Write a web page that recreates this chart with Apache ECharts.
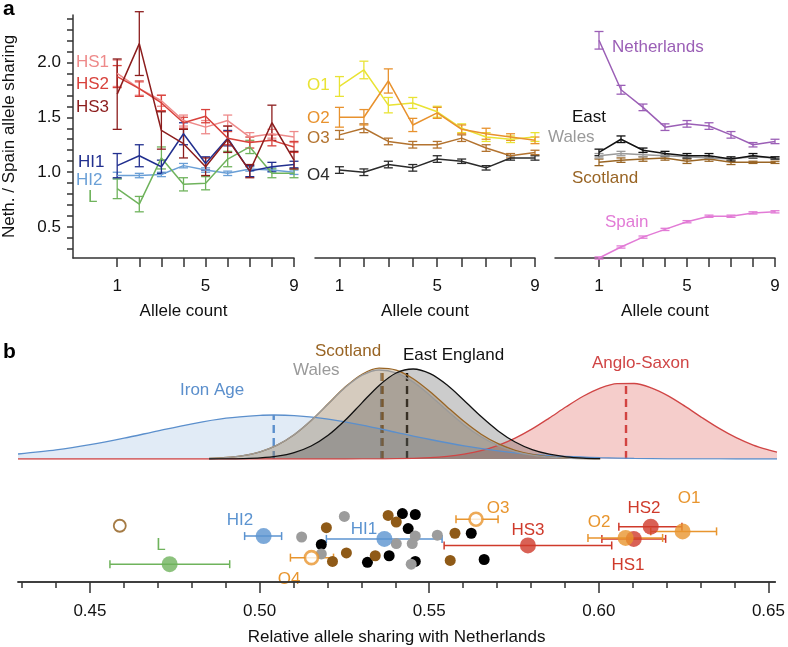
<!DOCTYPE html>
<html>
<head>
<meta charset="utf-8">
<title>Allele sharing</title>
<script src="https://cdn.jsdelivr.net/npm/echarts@6/dist/echarts.min.js"></script>
<style>
  html, body { margin: 0; padding: 0; background: #fff; }
  #main { width: 788px; height: 647px; }
</style>
</head>
<body>
<div id="main"></div>
<script>
// ---- panel a: ratio by allele count ----
var alleleCount = [1, 2, 3, 4, 5, 6, 7, 8, 9];
var ratioTicks = [0.3, 0.4, 0.5, 0.6, 0.7, 0.8, 0.9, 1.0, 1.1, 1.2, 1.3, 1.4, 1.5, 1.6, 1.7, 1.8, 1.9, 2.0, 2.1, 2.2, 2.3, 2.4];
var ratioLabels = [0.5, 1.0, 1.5, 2.0];
var countTicks = [1, 2, 3, 4, 5, 6, 7, 8, 9];
var countLabels = [1, 5, 9];

var hs1 = [1.90, 1.76, 1.65, 1.47, 1.41, 1.47, 1.32, 1.35, 1.32];
var hs1Err = [0.12, 0.06, 0.05, 0.05, 0.06, 0.05, 0.04, 0.04, 0.05];
var hs2 = [1.87, 1.76, 1.63, 1.45, 1.51, 1.31, 1.27, 1.29, 1.23];
var hs2Err = [0.10, 0.07, 0.07, 0.05, 0.06, 0.06, 0.05, 0.05, 0.05];
var hs3 = [1.71, 2.17, 1.38, 1.26, 1.05, 1.30, 1.01, 1.45, 1.11];
var hs3Err = [0.32, 0.29, 0.17, 0.13, 0.08, 0.12, 0.06, 0.16, 0.08];
var hi1 = [1.06, 1.15, 1.05, 1.35, 1.08, 1.31, 1.01, 1.05, 1.07];
var hi1Err = [0.11, 0.10, 0.06, 0.10, 0.06, 0.07, 0.05, 0.04, 0.03];
var hi2 = [0.97, 0.97, 0.98, 1.06, 1.02, 0.99, 1.03, 1.02, 1.00];
var hi2Err = [0.03, 0.02, 0.02, 0.02, 0.02, 0.02, 0.02, 0.02, 0.02];
var lSet = [0.85, 0.71, 1.13, 0.89, 0.90, 1.12, 1.23, 0.99, 0.99];
var lErr = [0.09, 0.07, 0.10, 0.06, 0.06, 0.07, 0.06, 0.04, 0.04];

var o1 = [1.78, 1.93, 1.61, 1.63, 1.55, 1.40, 1.32, 1.30, 1.32];
var o1Err = [0.09, 0.08, 0.07, 0.05, 0.05, 0.04, 0.04, 0.03, 0.04];
var o2 = [1.50, 1.50, 1.83, 1.43, 1.54, 1.39, 1.35, 1.32, 1.29];
var o2Err = [0.09, 0.07, 0.11, 0.06, 0.05, 0.04, 0.05, 0.03, 0.03];
var o3 = [1.34, 1.40, 1.28, 1.25, 1.25, 1.31, 1.22, 1.15, 1.18];
var o3Err = [0.04, 0.04, 0.03, 0.03, 0.03, 0.03, 0.03, 0.02, 0.02];
var o4 = [1.02, 1.00, 1.07, 1.04, 1.12, 1.10, 1.04, 1.13, 1.13];
var o4Err = [0.03, 0.03, 0.03, 0.03, 0.03, 0.02, 0.02, 0.02, 0.02];

var neth = [2.20, 1.75, 1.59, 1.41, 1.44, 1.42, 1.34, 1.25, 1.28];
var nethErr = [0.08, 0.04, 0.03, 0.03, 0.03, 0.03, 0.03, 0.02, 0.02];
var east = [1.18, 1.30, 1.20, 1.17, 1.15, 1.15, 1.12, 1.15, 1.13];
var eastErr = [0.03, 0.03, 0.02, 0.02, 0.02, 0.02, 0.02, 0.02, 0.01];
var wales = [1.15, 1.17, 1.16, 1.15, 1.14, 1.13, 1.12, 1.14, 1.13];
var walesErr = [0.02, 0.02, 0.02, 0.01, 0.01, 0.01, 0.01, 0.01, 0.01];
var scotland = [1.09, 1.11, 1.12, 1.13, 1.10, 1.12, 1.09, 1.09, 1.09];
var scotlandErr = [0.03, 0.02, 0.02, 0.02, 0.02, 0.02, 0.02, 0.01, 0.01];
var spain = [0.22, 0.32, 0.41, 0.48, 0.55, 0.60, 0.60, 0.63, 0.64];
var spainErr = [0.01, 0.01, 0.01, 0.01, 0.01, 0.01, 0.01, 0.01, 0.01];

// ---- panel b top: density curves ----
var ironX = [0.4288, 0.44, 0.45, 0.46, 0.47, 0.48, 0.49, 0.50, 0.504, 0.51, 0.52, 0.53, 0.54, 0.55, 0.56, 0.57, 0.58, 0.59, 0.60, 0.61, 0.62, 0.63, 0.64, 0.652];
var ironY = [5.0, 9.1, 14.3, 20.8, 28.2, 35.2, 40.8, 43.7, 44.0, 43.4, 39.9, 33.9, 26.7, 19.5, 13.1, 8.2, 4.7, 2.5, 1.3, 0.6, 0.2, 0.1, 0, 0];
var modernX = [0.485, 0.490, 0.495, 0.500, 0.505, 0.510, 0.515, 0.520, 0.525, 0.530, 0.535, 0.540, 0.545, 0.550, 0.555, 0.560, 0.565, 0.570, 0.575, 0.580, 0.585, 0.590, 0.595, 0.600];
var scotlandY = [0.6, 1.5, 3.4, 7.2, 13.9, 24.3, 38.5, 55.2, 71.9, 84.8, 90.8, 88.8, 80.3, 67.3, 52.1, 37.4, 24.8, 15.3, 8.7, 4.6, 2.2, 1.0, 0.4, 0.2];
var walesY = [0.6, 1.4, 3.3, 7.1, 13.8, 24.2, 38.4, 55.0, 71.4, 83.8, 89.0, 86.2, 77.1, 63.6, 48.5, 34.1, 22.2, 13.3, 7.4, 3.8, 1.8, 0.8, 0.3, 0.1];
var eastY = [0, 0.1, 0.4, 1.1, 2.8, 6.4, 13.0, 23.7, 38.7, 56.4, 73.6, 86.0, 90.0, 85.3, 73.9, 58.5, 42.4, 28.1, 17.0, 9.4, 4.8, 2.2, 0.9, 0.4];
var angloX = [0.4288, 0.50, 0.52, 0.53, 0.54, 0.55, 0.555, 0.56, 0.565, 0.57, 0.575, 0.58, 0.585, 0.59, 0.595, 0.60, 0.605, 0.61, 0.615, 0.62, 0.625, 0.63, 0.635, 0.64, 0.645, 0.65, 0.652];
var angloY = [0, 0, 0, 0.05, 0.3, 1.4, 2.6, 4.9, 8.4, 13.7, 20.9, 30.1, 40.9, 52.2, 62.7, 70.9, 75.4, 75.5, 71.1, 63.1, 52.6, 41.3, 30.6, 21.3, 13.9, 8.6, 6.9];
// mean markers (x, height of curve there)
var meanNames = ['Iron Age', 'Wales', 'Scotland', 'East England', 'Anglo-Saxon'];
var meanX = [0.504, 0.5356, 0.536, 0.5432, 0.6076];
var meanTop = [44, 89, 91, 90, 76];

// ---- panel b bottom: relative sharing ----
var sharingTicks = [0.43, 0.44, 0.45, 0.46, 0.47, 0.48, 0.49, 0.50, 0.51, 0.52, 0.53, 0.54, 0.55, 0.56, 0.57, 0.58, 0.59, 0.60, 0.61, 0.62, 0.63, 0.64, 0.65];
var sharingLabels = [0.45, 0.50, 0.55, 0.60, 0.65];

var grayPts = [[0.5250, 70], [0.5124, 48], [0.5182, 30], [0.5459, 49], [0.5403, 41], [0.5450, 41], [0.5524, 50], [0.5447, 19]];
var blackPts = [[0.5182, 40], [0.5318, 21], [0.5382, 28], [0.5421, 73], [0.5459, 72], [0.5438, 57], [0.5459, 22], [0.5624, 52], [0.5662, 24]];
var brownPts = [[0.5197, 58], [0.5215, 22], [0.5256, 31], [0.5341, 28], [0.5379, 71], [0.5403, 64], [0.5576, 52], [0.5562, 23]];
var oddPts = [[0.4588, 60]];

var groupNames = ['L', 'HI2', 'HI1', 'O4', 'O3', 'HS3', 'HS1', 'O2', 'HS2', 'O1'];
var groupX = [0.4735, 0.5012, 0.5368, 0.5153, 0.5638, 0.5791, 0.6103, 0.6079, 0.6153, 0.6247];
var groupLo = [0.4559, 0.4956, 0.5197, 0.5091, 0.5579, 0.5544, 0.6009, 0.5968, 0.6059, 0.6153];
var groupHi = [0.4912, 0.5065, 0.5538, 0.5218, 0.5703, 0.6038, 0.6197, 0.6188, 0.6245, 0.6347];
var groupRow = [19, 49, 46, 26, 67, 39, 46, 47, 59, 54];

// ---- styles ----
var FONT = '"Liberation Sans", Arial, Helvetica, sans-serif';
var C = {
  HS1: '#ee8a8a', HS2: '#d8423c', HS3: '#8c1d1d', HI1: '#22308f', HI2: '#6a9fd6', L: '#6fb35c',
  O1: '#e9e334', O2: '#e8922e', O3: '#b3732f', O4: '#2b2b2b',
  Neth: '#9b5fb6', East: '#111111', Wales: '#9a9a9a', Scot: '#996525', Spain: '#e27bd6',
  Iron: '#5b8fcc', Anglo: '#d04545', Orange: '#e8952e', Red: '#cf3a2b', Blue: '#5b93d0'
};
var groupColor = { L: C.L, HI2: C.Blue, HI1: C.Blue, O4: C.Orange, O3: C.Orange, HS3: C.Red, HS1: C.Red, O2: C.Orange, HS2: C.Red, O1: C.Orange };
var groupOpen = { O4: true, O3: true };

var myChart = echarts.init(document.getElementById('main'), null, { renderer: 'canvas' });

var series = [];

function addCurve(grid, vals, errs, color) {
  var pts = alleleCount.map(function (x, i) { return [x, vals[i]]; });
  series.push({
    type: 'line', xAxisIndex: grid, yAxisIndex: grid, data: pts,
    showSymbol: false, symbol: 'none', silent: true,
    lineStyle: { color: color, width: 1.5 }
  });
  series.push({
    type: 'custom', xAxisIndex: grid, yAxisIndex: grid, clip: false, silent: true,
    data: alleleCount.map(function (x, i) { return [x, vals[i], errs[i]]; }),
    encode: { x: 0, y: 1 },
    renderItem: function (params, api) {
      var x = api.value(0), y = api.value(1), e = api.value(2);
      var top = api.coord([x, y + e]), bot = api.coord([x, y - e]);
      var w = 4.5, st = { stroke: color, lineWidth: 1.3 };
      return {
        type: 'group', children: [
          { type: 'line', shape: { x1: top[0], y1: top[1], x2: bot[0], y2: bot[1] }, style: st },
          { type: 'line', shape: { x1: top[0] - w, y1: top[1], x2: top[0] + w, y2: top[1] }, style: st },
          { type: 'line', shape: { x1: bot[0] - w, y1: bot[1], x2: bot[0] + w, y2: bot[1] }, style: st }
        ]
      };
    }
  });
}

addCurve(0, hi2, hi2Err, C.HI2);
addCurve(0, lSet, lErr, C.L);
addCurve(0, hi1, hi1Err, C.HI1);
addCurve(0, hs1, hs1Err, C.HS1);
addCurve(0, hs2, hs2Err, C.HS2);
addCurve(0, hs3, hs3Err, C.HS3);

addCurve(1, o4, o4Err, C.O4);
addCurve(1, o3, o3Err, C.O3);
addCurve(1, o1, o1Err, C.O1);
addCurve(1, o2, o2Err, C.O2);

addCurve(2, spain, spainErr, C.Spain);
addCurve(2, scotland, scotlandErr, C.Scot);
addCurve(2, wales, walesErr, C.Wales);
addCurve(2, east, eastErr, C.East);
addCurve(2, neth, nethErr, C.Neth);

// density curves
function addDensity(xs, ys, color, fill) {
  series.push({
    type: 'line', xAxisIndex: 3, yAxisIndex: 3, silent: true,
    data: xs.map(function (x, i) { return [x, ys[i]]; }),
    smooth: 0.3, showSymbol: false, symbol: 'none',
    lineStyle: { color: color, width: 1.3 },
    areaStyle: { color: fill, opacity: 1 }
  });
}
addDensity(angloX, angloY, C.Anglo, 'rgba(215,60,55,0.26)');
addDensity(ironX, ironY, C.Iron, 'rgba(91,143,204,0.18)');
addDensity(modernX, scotlandY, C.Scot, 'rgba(150,105,40,0.25)');
addDensity(modernX, walesY, C.Wales, 'rgba(150,150,150,0.2)');
addDensity(modernX, eastY, C.East, 'rgba(0,0,0,0.2)');

var meanColor = [C.Iron, C.Wales, C.Scot, C.East, C.Anglo];
series.push({
  type: 'custom', xAxisIndex: 3, yAxisIndex: 3, silent: true, clip: false,
  data: meanX.map(function (x, i) { return [x, meanTop[i], i]; }),
  encode: { x: 0, y: 1 },
  renderItem: function (params, api) {
    var x = api.value(0), t = api.value(1), k = api.value(2);
    var a = api.coord([x, 0]), b = api.coord([x, t]);
    return {
      type: 'line', shape: { x1: a[0], y1: a[1], x2: b[0], y2: b[1] },
      style: { stroke: meanColor[k], lineWidth: 2.4, lineDash: [8, 5] }
    };
  }
});

// scatter: modern samples
function addDots(pts, color) {
  series.push({
    type: 'scatter', xAxisIndex: 5, yAxisIndex: 4, data: pts, silent: true,
    symbolSize: 11, itemStyle: { color: color, opacity: 1 }
  });
}
addDots(blackPts, '#000000');
addDots(brownPts, '#8f5a17');
addDots(grayPts, '#9c9c9c');
series.push({
  type: 'scatter', xAxisIndex: 5, yAxisIndex: 4, data: oddPts, silent: true,
  symbolSize: 12, itemStyle: { color: '#fff', borderColor: '#8f5a17', borderWidth: 1.8 }
});

// ancient groups with error bars
groupNames.forEach(function (g, i) {
  var color = groupColor[g];
  series.push({
    type: 'custom', xAxisIndex: 5, yAxisIndex: 4, silent: true, clip: false,
    data: [[groupLo[i], groupHi[i], groupRow[i]]],
    encode: { x: [0, 1], y: 2 },
    renderItem: function (params, api) {
      var a = api.coord([api.value(0), api.value(2)]), b = api.coord([api.value(1), api.value(2)]);
      var h = 4, st = { stroke: color, lineWidth: 1.5 };
      return {
        type: 'group', children: [
          { type: 'line', shape: { x1: a[0], y1: a[1], x2: b[0], y2: b[1] }, style: st },
          { type: 'line', shape: { x1: a[0], y1: a[1] - h, x2: a[0], y2: a[1] + h }, style: st },
          { type: 'line', shape: { x1: b[0], y1: b[1] - h, x2: b[0], y2: b[1] + h }, style: st }
        ]
      };
    }
  });
  series.push({
    type: 'scatter', xAxisIndex: 5, yAxisIndex: 4, silent: true,
    data: [[groupX[i], groupRow[i]]],
    symbolSize: groupOpen[g] ? 13 : 16,
    itemStyle: groupOpen[g]
      ? { color: '#fff', borderColor: color, borderWidth: 2.6 }
      : { color: color }
  });
});

function txt(t, x, y, color, opt) {
  opt = opt || {};
  return {
    type: 'text', x: x, y: y, silent: true,
    style: {
      text: t, fill: color, align: opt.align || 'left', verticalAlign: 'middle',
      font: (opt.weight || 'normal') + ' ' + (opt.size || 17) + 'px ' + FONT
    }
  };
}

var axisText = { color: '#111', fontSize: 17, fontFamily: FONT };
var axisLine = { show: true, onZero: false, lineStyle: { color: '#333', width: 1.5 } };

function countAxis(grid, min) {
  return {
    type: 'value', gridIndex: grid, min: min, max: 9, position: 'bottom',
    name: 'Allele count', nameLocation: 'middle', nameGap: 45,
    nameTextStyle: axisText,
    axisLine: axisLine, splitLine: { show: false },
    axisTick: { show: true, length: 9, customValues: countTicks, lineStyle: { color: '#333', width: 1.5 } },
    axisLabel: Object.assign({ margin: 20, customValues: countLabels }, axisText)
  };
}

function hiddenRatio(grid) {
  return { type: 'value', gridIndex: grid, min: 0.22, max: 2.43, show: false };
}

myChart.setOption({
  animation: false,
  backgroundColor: '#fff',
  grid: [
    { left: 72, top: 15, width: 222, height: 243 },
    { left: 315, top: 15, width: 220, height: 243 },
    { left: 555, top: 15, width: 220, height: 243 },
    { left: 18, top: 359, width: 759, height: 100 },
    { left: 18, top: 507, width: 759, height: 80 }
  ],
  xAxis: [
    countAxis(0, -1),
    countAxis(1, 0),
    countAxis(2, -1),
    { type: 'value', gridIndex: 3, min: 0.4288, max: 0.652, show: false },
    {
      type: 'value', gridIndex: 4, min: 0.4288, max: 0.652, position: 'bottom',
      axisLine: axisLine, splitLine: { show: false }, axisLabel: { show: false },
      axisTick: { show: true, length: 6, customValues: sharingTicks, lineStyle: { color: '#333', width: 1.5 } }
    },
    {
      type: 'value', gridIndex: 4, min: 0.4288, max: 0.652, position: 'bottom',
      name: 'Relative allele sharing with Netherlands', nameLocation: 'middle', nameGap: 47,
      nameTextStyle: axisText,
      axisLine: axisLine, splitLine: { show: false },
      axisTick: { show: true, length: 11, customValues: sharingLabels, lineStyle: { color: '#333', width: 1.5 } },
      axisLabel: Object.assign({
        margin: 21, customValues: sharingLabels,
        formatter: function (v) { return v.toFixed(2); }
      }, axisText)
    }
  ],
  yAxis: [
    {
      type: 'value', gridIndex: 0, min: 0.22, max: 2.43, position: 'left',
      name: 'Neth. / Spain allele sharing', nameLocation: 'middle', nameGap: 55,
      nameTextStyle: axisText,
      axisLine: axisLine, splitLine: { show: false },
      axisTick: { show: true, length: 6, customValues: ratioTicks, lineStyle: { color: '#333', width: 1.5 } },
      axisLabel: Object.assign({
        margin: 12, customValues: ratioLabels,
        formatter: function (v) { return v.toFixed(1); }
      }, axisText)
    },
    hiddenRatio(1),
    hiddenRatio(2),
    { type: 'value', gridIndex: 3, min: 0, max: 100, show: false },
    { type: 'value', gridIndex: 4, min: 0, max: 80, show: false }
  ],
  graphic: [
    txt('a', 3, 9, '#000', { weight: 'bold', size: 21 }),
    txt('b', 3, 352, '#000', { weight: 'bold', size: 21 }),
    txt('HS1', 76, 62, C.HS1), txt('HS2', 76, 84, C.HS2), txt('HS3', 76, 107, C.HS3),
    txt('HI1', 78, 162, C.HI1), txt('HI2', 76, 180, C.HI2), txt('L', 88, 197, C.L),
    txt('O1', 307, 85, C.O1), txt('O2', 307, 118, C.O2), txt('O3', 307, 138, C.O3), txt('O4', 307, 175, C.O4),
    txt('Netherlands', 612, 47, C.Neth), txt('East', 572, 117, C.East), txt('Wales', 548, 137, C.Wales),
    txt('Scotland', 572, 178, C.Scot), txt('Spain', 605, 222, C.Spain),
    txt('Iron Age', 180, 390, C.Iron), txt('Scotland', 315, 351, C.Scot), txt('Wales', 293, 370, C.Wales),
    txt('East England', 403, 355, C.East), txt('Anglo-Saxon', 592, 363, C.Anglo),
    txt('L', 161, 545, C.L, { align: 'center' }), txt('HI2', 240, 520, C.Blue, { align: 'center' }),
    txt('HI1', 364, 529, C.Blue, { align: 'center' }), txt('O4', 289, 579, C.Orange, { align: 'center' }),
    txt('O3', 498, 508, C.Orange, { align: 'center' }), txt('HS3', 528, 530, C.Red, { align: 'center' }),
    txt('O2', 599, 522, C.Orange, { align: 'center' }), txt('HS2', 644, 508, C.Red, { align: 'center' }),
    txt('O1', 689, 498, C.Orange, { align: 'center' }), txt('HS1', 628, 565, C.Red, { align: 'center' })
  ],
  series: series
});
</script>
</body>
</html>
